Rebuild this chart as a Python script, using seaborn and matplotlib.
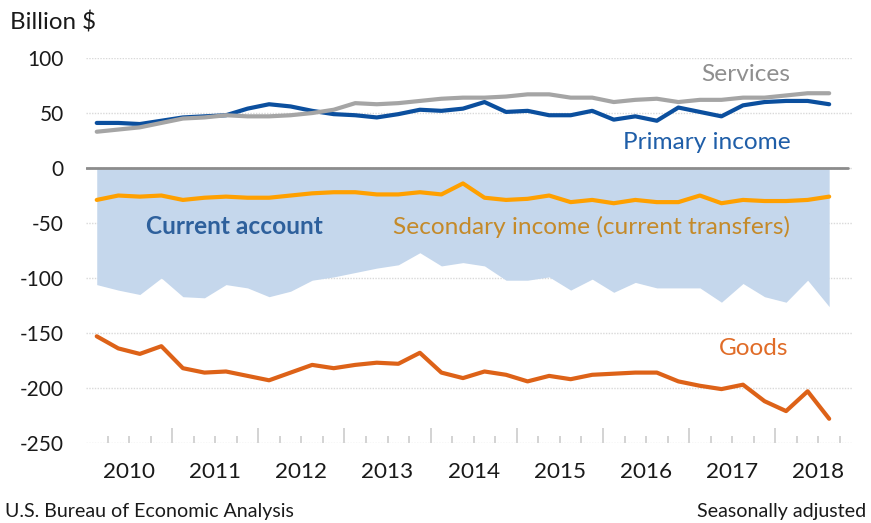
import matplotlib.pyplot as plt
import numpy as np
import pandas as pd
import seaborn as sns

# quarterly, 2010Q1 .. 2018Q3 (billion $, seasonally adjusted)
years = [2010, 2011, 2012, 2013, 2014, 2015, 2016, 2017, 2018]
quarters = [f"{y}Q{q}" for y in years for q in (1, 2, 3, 4)][:35]

services = [33, 35, 37, 41, 45, 46, 48, 47, 47, 48, 50, 53, 59, 58, 59, 61, 63, 64,
            64, 65, 67, 67, 64, 64, 60, 62, 63, 60, 62, 62, 64, 64, 66, 68, 68]
primary_income = [41, 41, 40, 43, 46, 47, 48, 54, 58, 56, 52, 49, 48, 46, 49, 53, 52, 54,
                  60, 51, 52, 48, 48, 52, 44, 47, 43, 55, 51, 47, 57, 60, 61, 61, 58]
secondary_income = [-29, -25, -26, -25, -29, -27, -26, -27, -27, -25, -23, -22, -22, -24, -24, -22, -24, -14,
                    -27, -29, -28, -25, -31, -29, -32, -29, -31, -31, -25, -32, -29, -30, -30, -29, -26]
goods = [-153, -164, -169, -162, -182, -186, -185, -189, -193, -186, -179, -182, -179, -177, -178, -168, -186, -191,
         -185, -188, -194, -189, -192, -188, -187, -186, -186, -194, -198, -201, -197, -212, -221, -203, -228]
current_account = [-106, -111, -115, -100, -117, -118, -106, -109, -117, -112, -102, -99, -95, -91, -88, -77, -89, -86,
                   -89, -102, -102, -99, -111, -101, -113, -104, -109, -109, -109, -122, -105, -117, -122, -102, -126]

series_colors = {
    "Goods": "#dd6218",
    "Secondary income": "#ffa000",
    "Primary income": "#0b4f9e",
    "Services": "#a5a5a5",
}

sns.set_theme(style="white")
plt.rcParams["font.family"] = ["Lato", "DejaVu Sans"]
plt.rcParams["axes.unicode_minus"] = False
plt.rcParams["lines.solid_joinstyle"] = "round"
plt.rcParams["lines.solid_capstyle"] = "round"

pos = np.arange(len(quarters))
df = pd.DataFrame({
    "pos": pos,
    "Goods": goods,
    "Secondary income": secondary_income,
    "Primary income": primary_income,
    "Services": services,
}).melt(id_vars="pos", var_name="series", value_name="value")

fig = plt.figure(figsize=(8.71, 5.23), dpi=100)
ax = fig.add_axes([0.0987, 0.153, 0.879, 0.736])

ax.fill_between(pos, 0, current_account, color="#c5d7ec", lw=0, zorder=1)
ax.axhline(0, color="#8c8c8c", lw=2, zorder=2, xmax=0.995)

sns.lineplot(data=df, x="pos", y="value", hue="series", palette=series_colors,
             hue_order=list(series_colors), linewidth=3, legend=False,
             sort=False, ax=ax, zorder=3)

ax.set_xlim(-0.5, 35.04)
ax.set_ylim(-250, 100)
ax.set_xlabel("")
ax.set_ylabel("")
for s in ax.spines.values():
    s.set_visible(False)

ax.set_yticks(range(-250, 101, 50))
ax.set_yticklabels([str(v) for v in range(-250, 101, 50)])
ax.grid(axis="y", color="#d9d9d9", linestyle=(0, (1, 1)), linewidth=1)
ax.grid(axis="x", visible=False)
ax.tick_params(axis="y", length=0, pad=16, labelsize=15, labelcolor="#1a1a1a")

year_bounds = [3.5 + 4 * k for k in range(8)]
quarter_bounds = [q + 0.5 for q in range(35) if (q + 0.5) not in year_bounds]
ax.set_xticks(year_bounds)
ax.set_xticklabels([""] * len(year_bounds))
ax.set_xticks(quarter_bounds, minor=True)
ax.tick_params(axis="x", which="major", bottom=True, direction="in", length=11, width=1.3, color="#d0d0d0")
ax.tick_params(axis="x", which="minor", bottom=True, direction="in", length=5, width=1.3, color="#d0d0d0")

xt = ax.get_xaxis_transform()
for k, y in enumerate(years):
    ax.text(1.5 + 4 * k, -0.075, str(y), transform=xt, ha="center", va="center",
            fontsize=16.2, color="#1a1a1a")

ax.text(32.2, 85.5, "Services", ha="right", va="center", fontsize=17.6, color="#8f8f8f")
ax.text(32.2, 23.5, "Primary income", ha="right", va="center", fontsize=17.6, color="#1f5ea8")
ax.text(2.28, -53.5, "Current account", ha="left", va="center", fontsize=17.6,
        fontweight="bold", color="#2e609c")
ax.text(32.2, -53.5, "Secondary income (current transfers)", ha="right", va="center",
        fontsize=17.6, color="#c48a2a")
ax.text(32.1, -164.5, "Goods", ha="right", va="center", fontsize=17.6, color="#e06c28")

fig.text(10 / 871, 1 - 22 / 523, "Billion $", ha="left", va="center", fontsize=17.4, color="#1a1a1a")
fig.text(5 / 871, 1 - 511 / 523, "U.S. Bureau of Economic Analysis", ha="left", va="center",
         fontsize=14.1, color="#1a1a1a")
fig.text(866 / 871, 1 - 511 / 523, "Seasonally adjusted", ha="right", va="center",
         fontsize=14.1, color="#1a1a1a")

fig.savefig("out.png", dpi=100)
plt.close(fig)
